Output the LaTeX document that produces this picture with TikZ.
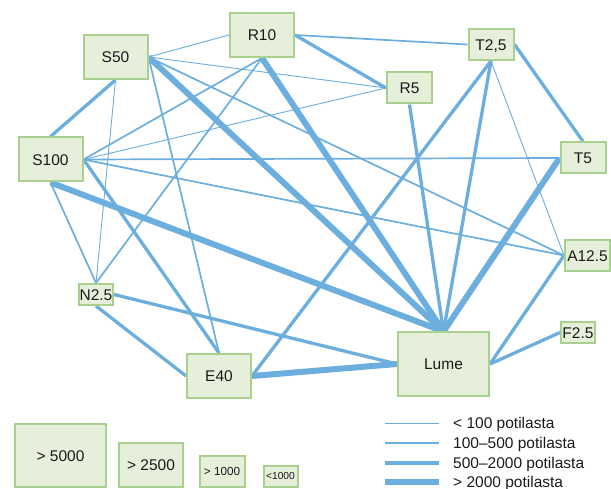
\documentclass[tikz,border=0pt]{standalone}
\usepackage{fontspec}
\setmainfont{Liberation Sans}
\usetikzlibrary{backgrounds}
\definecolor{boxfill}{RGB}{230,239,218}
\definecolor{boxline}{RGB}{169,208,142}
\definecolor{edgeblue}{RGB}{108,174,221}
\definecolor{txt}{RGB}{26,26,26}
\tikzset{
 box/.style={draw=boxline, fill=boxfill, line width=2pt, inner sep=0pt, text=txt,
   font=\fontsize{15.5}{18}\selectfont, text height=11.1pt, text depth=0pt},
 bxl/.style={box, minimum width=91pt, minimum height=63pt},
 bl/.style={box, minimum width=64pt, minimum height=44pt},
 bm/.style={box, minimum width=45pt, minimum height=31pt},
 bs/.style={box, minimum width=34pt, minimum height=21pt},
 wa/.style={draw=edgeblue, line width=0.9pt},
 wb/.style={draw=edgeblue, line width=1.7pt},
 wc/.style={draw=edgeblue, line width=3.3pt},
 wd/.style={draw=edgeblue, line width=6pt},
 lg/.style={font=\fontsize{15.5}{18}\selectfont, text=txt, anchor=base west, inner sep=0pt}
}
\begin{document}
\begin{tikzpicture}[x=1pt,y=-1pt]
\useasboundingbox (0,0) rectangle (611,489);
% nodes
\node[bl] (S50) at (115.5,57) {S50};
\node[bl] (R10) at (262,35) {R10};
\node[bm] (T25) at (491,44.5) {T2,5};
\node[bm] (R5) at (409.5,88) {R5};
\node[bm] (T5) at (583,158) {T5};
\node[bl] (S100) at (50.5,159.5) {S100};
\node[bs] (N25) at (96,294.5) {N2.5};
\node[bl] (E40) at (219,376) {E40};
\node[bxl] (Lume) at (443.5,364) {Lume};
\node[bm] (A125) at (587.5,255.5) {A12.5};
\node[bs] (F25) at (578,332.5) {F2.5};
% edges
\begin{scope}[on background layer]
% < 100
\draw[wa] (S50.east) -- (R10.west);
\draw[wa] (S50.east) -- (R5.west);
\draw[wa] (S50.south) -- (N25.north);
\draw[wa] (S100.east) -- (R5.west);
\draw[wa] (T25.south) -- (A125.west);
% 100-500
\draw[wb] (S50.east) -- (A125.west);
\draw[wb] (S50.east) -- (E40.north);
\draw[wb] (R10.east) -- (T25.west);
\draw[wb] (R10.south) -- (S100.east);
\draw[wb] (R10.south) -- (N25.north);
\draw[wb] (S100.east) -- (T5.west);
\draw[wb] (S100.east) -- (A125.west);
\draw[wb] (S100.south) -- (N25.north);
% 500-2000
\draw[wc] (S50.south) -- (S100.north);
\draw[wc] (R10.east) -- (R5.west);
\draw[wc] (S100.east) -- (E40.north);
\draw[wc] (N25.east) -- (Lume.west);
\draw[wc] (N25.south) -- (E40.west);
\draw[wc] (E40.east) -- (T25.south);
\draw[wc] (T25.east) -- (T5.north);
\draw[wc] (T25.south) -- (Lume.north);
\draw[wc] (R5.south) -- (Lume.north);
\draw[wc] (Lume.east) -- (A125.west);
\draw[wc] (Lume.east) -- (F25.west);
% > 2000
\draw[wd] (S50.east) -- (Lume.north);
\draw[wd] (R10.south) -- (Lume.north);
\draw[wd] (S100.south) -- (Lume.north);
\draw[wd] (E40.east) -- (Lume.west);
\draw[wd] (T5.west) -- (Lume.north);
\end{scope}
% legend boxes
\node[bxl] (L1) at (60.5,455.5) {> 5000};
\node[bl] (L2) at (151,465) {> 2500};
\node[bm, font=\fontsize{11.7}{14}\selectfont, text height=8.4pt] (L3) at (222,471.5) {> 1000};
\node[bs, font=\fontsize{10.2}{12}\selectfont, text height=7.3pt] (L4) at (280.5,476) {<1000};
% legend lines
\coordinate (a1) at (385,423); \coordinate (a2) at (439,423);
\coordinate (b1) at (385,443); \coordinate (b2) at (439,443);
\coordinate (c1) at (385,463); \coordinate (c2) at (439,463);
\coordinate (d1) at (385,482); \coordinate (d2) at (439,482);
\draw[wa] (a1) -- (a2);
\draw[wb] (b1) -- (b2);
\draw[wc] (c1) -- (c2);
\draw[wd] (d1) -- (d2);
\node[lg] (t1) at (453,428.5) {< 100 potilasta};
\node[lg] (t2) at (453,448.5) {100–500 potilasta};
\node[lg] (t3) at (453,468.5) {500–2000 potilasta};
\node[lg] (t4) at (453,487.5) {> 2000 potilasta};
\end{tikzpicture}
\end{document}
